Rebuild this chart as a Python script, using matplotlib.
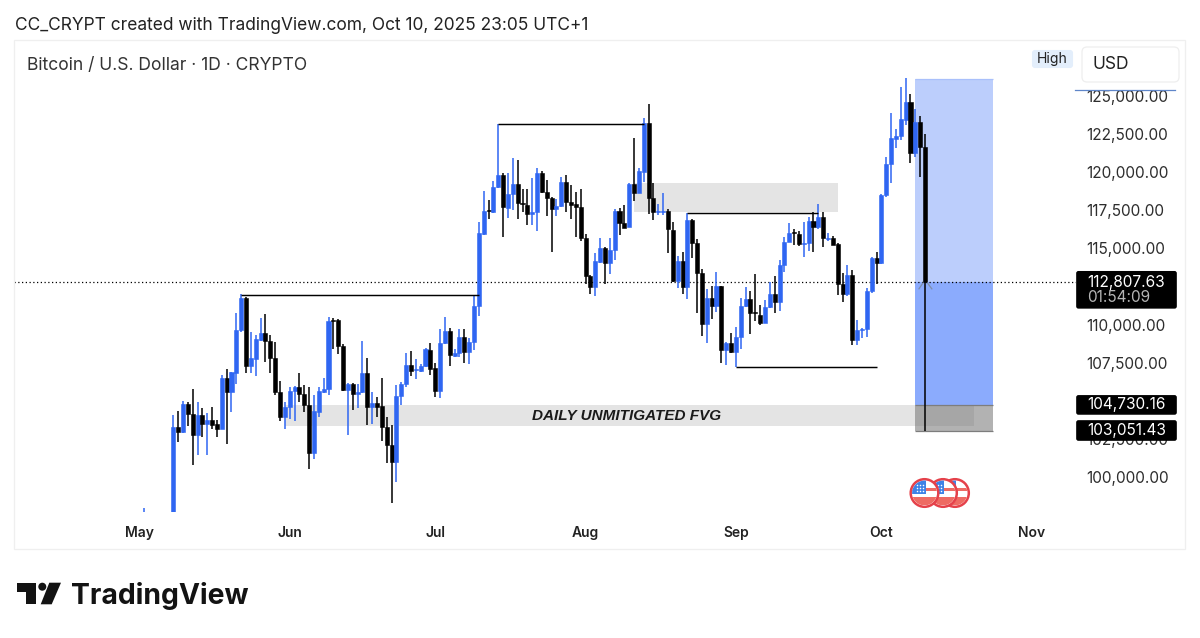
import matplotlib
matplotlib.use("Agg")
import matplotlib.pyplot as plt
from matplotlib.patches import Rectangle, Circle, Polygon, FancyBboxPatch

plt.rcParams['font.family'] = ['Inter', 'DejaVu Sans']

# one candle per day, starting on May 8 (day 0)
opens = [97000, 103285, 102935, 104794, 104116, 102760, 104073, 103482, 103744, 103460,
         103154, 106522, 105603, 106850, 109649, 111727, 107287, 107747, 108993, 109474,
         108950, 107790, 105603, 103963, 104576, 105647, 105910, 105428, 104729, 101557,
         104291, 105560, 105757, 110305, 110305, 108622, 105713, 106106, 105450, 105560,
         106806, 104576, 104882, 104663, 103307, 102082, 100967, 105341, 106106, 107331,
         107047, 106981, 107287, 108337, 107134, 105669, 108775, 109584, 107944, 108162,
         109212, 108184, 108884, 111222, 115946, 117521, 117411, 119008, 119817, 117674,
         118571, 119205, 118002, 117849, 117258, 117368, 119970, 118724, 118330, 117586,
         117805, 119380, 118024, 117915, 117740, 115662, 113191, 112447, 114131, 115006,
         114022, 114896, 117433, 116646, 116384, 119227, 118658, 120036, 123207, 118286,
         117411, 117412, 117478, 116209, 112863, 114197, 112491, 116865, 115335, 113366,
         110042, 111748, 111223, 112535, 108336, 108774, 108227, 109211, 111223, 111660,
         110808, 110633, 110130, 111136, 112010, 111507, 113913, 115444, 116078, 115947,
         115291, 115335, 116822, 116384, 117040, 115597, 115663, 115269, 112645, 112010,
         113257, 108992, 109648, 109692, 112185, 114350, 114022, 118504, 120516, 122178,
         122375, 123425, 124628, 121282, 123316, 121632]
highs = [104073, 104335, 105013, 104947, 105757, 104947, 104510, 104182, 104576, 103744,
         106697, 107091, 106916, 110743, 112011, 111793, 109496, 109321, 110415, 110699,
         109321, 108884, 106303, 104947, 105888, 105975, 106806, 106041, 105931, 105385,
         105931, 106478, 110480, 110415, 110349, 108731, 106194, 106194, 106106, 108928,
         107790, 105603, 105232, 106522, 103963, 103416, 106041, 106260, 108162, 108293,
         107725, 107419, 108490, 108775, 107462, 109693, 110480, 109759, 108381, 109693,
         109693, 109146, 111946, 116755, 118767, 118177, 119445, 123141, 119927, 119970,
         120911, 120801, 118877, 118877, 119598, 120255, 120080, 119489, 118396, 118243,
         119708, 119817, 119161, 118680, 118877, 115924, 113256, 114678, 115662, 115071,
         115662, 117565, 117630, 117849, 119270, 122267, 120298, 123535, 124454, 119270,
         117893, 118615, 117565, 116712, 114504, 114788, 117347, 116909, 115597, 113629,
         112317, 112557, 113432, 112557, 108883, 109430, 109867, 111770, 112491, 112229,
         113323, 111289, 111617, 112820, 113213, 114241, 115772, 116647, 116253, 116166,
         116756, 117084, 117412, 117915, 117412, 115991, 115816, 115335, 113366, 113913,
         113585, 110304, 109758, 112382, 114416, 114788, 118600, 121019, 123906, 122813,
         125612, 126159, 125109, 124125, 123710, 122485]
lows = [96900, 102323, 102870, 103373, 100792, 101448, 102607, 101448, 103132, 102651,
        103132, 102148, 104248, 106106, 109540, 106850, 106806, 106631, 108950, 107572,
        106850, 105407, 103679, 103132, 103810, 103701, 104947, 104291, 100508, 101164,
        103963, 105494, 105385, 108403, 108075, 105669, 102760, 104401, 104510, 105494,
        103416, 103482, 103963, 102367, 100945, 98277, 99699, 104729, 105888, 106631,
        106413, 106916, 107244, 106697, 105275, 105166, 108731, 107309, 107856, 107856,
        107506, 107419, 108337, 110588, 115881, 116908, 117302, 118942, 115771, 117018,
        117521, 116908, 117368, 116537, 116537, 116165, 118614, 117149, 114743, 117127,
        117740, 117411, 116930, 115771, 115487, 112644, 111988, 111900, 114022, 112644,
        113322, 114240, 115881, 116318, 116384, 118111, 118614, 119336, 117237, 116865,
        117193, 117194, 114722, 112820, 112382, 112010, 111660, 114350, 110786, 109277,
        108774, 110370, 110851, 107505, 107352, 108161, 107243, 108402, 111179, 109386,
        110261, 109976, 110108, 111092, 110786, 110895, 113432, 115400, 115225, 115160,
        114416, 114832, 114744, 116253, 115116, 115488, 115225, 111945, 111507, 111879,
        108664, 108664, 109145, 109211, 112098, 112666, 113957, 118395, 119314, 121566,
        122113, 123097, 120626, 121019, 119707, 103051.43]
closes = [103307, 102935, 104794, 104116, 102760, 104073, 103482, 103744, 103416, 103154,
          106522, 105603, 106872, 109649, 111727, 107287, 107790, 109037, 109474, 108906,
          107790, 105560, 103963, 104619, 105669, 105910, 105428, 104729, 101557, 104335,
          105647, 105757, 110262, 110262, 108622, 105713, 106106, 105450, 105603, 106806,
          104576, 104882, 104619, 103307, 102082, 100967, 105341, 106106, 107331, 106981,
          107091, 107309, 108403, 107112, 105669, 108818, 109584, 108009, 108162, 109212,
          108184, 108884, 111224, 115990, 117455, 117455, 119052, 119817, 117696, 118571,
          119205, 117958, 117936, 117258, 117368, 119970, 118724, 118330, 117586, 117805,
          119380, 118024, 117849, 117740, 115662, 113191, 112447, 114175, 115006, 114022,
          114896, 117433, 116646, 116362, 119227, 118658, 120080, 123207, 118286, 117411,
          117477, 117478, 116253, 112863, 114197, 112448, 116865, 115335, 113366, 110042,
          111770, 111223, 112557, 108336, 108817, 108227, 109211, 111223, 111660, 110742,
          110764, 110130, 111136, 112010, 111507, 113913, 115444, 116034, 116034, 115291,
          115378, 116822, 116384, 117040, 115663, 115663, 115247, 112645, 112010, 113257,
          108992, 109648, 109692, 112185, 114350, 114066, 118528, 120538, 122222, 122397,
          123469, 124628, 121282, 123316, 121632, 112807.63]

# the only candle of early May that reaches into the pane
stub_day = -6
stub_high = 97950
stub_low = 96500

month_days = [-7, 24, 54, 85, 116, 146, 177]
month_names = ['May', 'Jun', 'Jul', 'Aug', 'Sep', 'Oct', 'Nov']
price_ticks = [100000, 102500, 107500, 110000, 115000, 117500, 120000, 122500, 125000]

last_price = 112807.63
target_price = 104730.16
stop_price = 103051.43
box_top = 126115

# (first day, last day, price)
level_lines = [(14, 63, 111946), (67, 97, 123141), (106, 133, 117347), (116, 145, 107243)]
fvg_days = (23, 165)
fvg_prices = (103374, 104730)
supply_days = (95, 137)
supply_prices = (117412, 119271)
box_days = (153, 169)

BLUE = '#2f66f2'

fig = plt.figure(figsize=(12, 6.38), dpi=100, facecolor='white')
ax = fig.add_axes([14 / 1200, 1 - 512 / 638, 1062 / 1200, 472 / 638])
ax.set_xlim((14 - 173.3) / 4.85, (1076 - 173.3) / 4.85)
ax.set_ylim(97710, 128674)
for s in ax.spines.values():
    s.set_visible(False)


def price_px(p):
    # price to pixel row, for the tags in the right gutter
    return 96 + (125000 - p) * 38.1 / 2500


# zones behind the candles
ax.add_patch(Rectangle((fvg_days[0], fvg_prices[0]), fvg_days[1] - fvg_days[0],
                       fvg_prices[1] - fvg_prices[0], color='#e4e4e4', lw=0, zorder=1))
ax.add_patch(Rectangle((supply_days[0], supply_prices[0]), supply_days[1] - supply_days[0],
                       supply_prices[1] - supply_prices[0], color='#e4e4e4', lw=0, zorder=1))

box_w = box_days[1] - box_days[0]
ax.add_patch(Rectangle((box_days[0], last_price), box_w, box_top - last_price,
                       color='#bccefc', lw=0, zorder=1.2))
ax.add_patch(Rectangle((box_days[0], target_price), box_w, last_price - target_price,
                       color='#8babfd', lw=0, zorder=1.2))
ax.add_patch(Rectangle((box_days[0], stop_price), box_w, target_price - stop_price,
                       color='#b2b2b2', lw=0, zorder=1.3))
ax.add_patch(Rectangle((box_days[0], fvg_prices[0]), fvg_days[1] - box_days[0],
                       fvg_prices[1] - fvg_prices[0], color='#a6a6a6', lw=0, zorder=1.4))
ax.hlines([target_price, stop_price], box_days[0], box_days[1], color='#7d7d7d', lw=0.9, zorder=1.5)
ax.hlines(box_top, box_days[0], box_days[1], color='#a9c0fb', lw=0.9, zorder=1.5)

ax.axhline(last_price, color='black', lw=0.9, ls=(0, (1, 2)), zorder=2)

days = list(range(len(opens)))
colors = [BLUE if c >= o else 'black' for o, c in zip(opens, closes)]
ax.vlines(days, lows, highs, colors=colors, lw=1.1, zorder=3)
ax.bar(days, [abs(c - o) for o, c in zip(opens, closes)],
       bottom=[min(o, c) for o, c in zip(opens, closes)], width=0.84,
       color=colors, edgecolor=colors, linewidth=0.4, zorder=3.2)
ax.vlines([stub_day], [stub_low], [stub_high], colors=[BLUE], lw=1.1, zorder=3)

for d0, d1, p in level_lines:
    ax.hlines(p, d0, d1, color='black', lw=1.05, zorder=4)

# entry chevron of the position tool
ax.plot([154.55, 153.75], [112730, 112350], color='#7f8ea8', lw=0.9, zorder=4)
ax.plot([155.5, 156.4], [112730, 112350], color='#7f8ea8', lw=0.9, zorder=4)

ax.text(93.5, 104040, 'DAILY UNMITIGATED FVG', ha='center', va='center', fontsize=11,
        family='Liberation Sans', weight='bold', style='italic', color='#1a1a1a', zorder=5)

ax.yaxis.tick_right()
ax.set_yticks(price_ticks)
ax.set_yticklabels([f'{p:,.2f}' for p in price_ticks])
ax.tick_params(axis='y', length=0, pad=7.5, labelsize=11.1, labelcolor='#2e2e2e')
ax.set_xticks(month_days)
ax.set_xticklabels(month_names)
ax.tick_params(axis='x', length=0, pad=10, labelsize=10, labelcolor='#222222')
for t in ax.get_xticklabels():
    t.set_fontweight('semibold')

# page furniture, drawn in pixel coordinates over the chart
ov = fig.add_axes([0, 0, 1, 1], zorder=10)
ov.set_xlim(0, 1200)
ov.set_ylim(638, 0)
ov.axis('off')
ov.patch.set_visible(False)

ov.add_patch(Rectangle((14, 40), 1171, 509, fill=False, ec='#efefef', lw=0.9))
ov.text(15, 26, 'CC_CRYPT created with TradingView.com, Oct 10, 2025 23:05 UTC+1',
        fontsize=12.5, va='center', color='#222222')
ov.text(27, 65, 'Bitcoin / U.S. Dollar · 1D · CRYPTO', fontsize=12.6, va='center', color='#333333')

ov.add_patch(FancyBboxPatch((1033, 51), 39, 16, boxstyle='round,pad=0,rounding_size=2',
                            fc='#e3eefb', ec='#e3eefb', lw=1.5))
ov.text(1052, 59, 'High', fontsize=10, ha='center', va='center', color='#222222')
ov.add_patch(FancyBboxPatch((1082, 47), 97, 35, boxstyle='round,pad=0,rounding_size=5',
                            fc='white', ec='#eeeeee', lw=0.9))
ov.text(1093, 64.5, 'USD', fontsize=12.5, va='center', color='#222222')
ov.plot([1075, 1175], [89.5, 89.5], color='#5f86c9', lw=0.9)


def price_tag(p, h, text_y, label):
    y = price_px(p)
    ov.add_patch(FancyBboxPatch((1077, y - h[0]), 99, h[0] + h[1],
                                boxstyle='round,pad=0,rounding_size=1.5', fc='black', ec='black', lw=1.2))
    ov.text(1087, y + text_y, label, fontsize=11.1, va='center', color='white')


price_tag(last_price, (10, 26), 0.5, f'{last_price:,.2f}')
ov.text(1087, price_px(last_price) + 16, '01:54:09', fontsize=11.1, va='center', color='#b5b5b5')
price_tag(target_price, (9, 9), 0, f'{target_price:,.2f}')
price_tag(stop_price, (9.5, 9.5), 0, f'{stop_price:,.2f}')


def flag(cx, cy, r, z):
    disc = Circle((cx, cy), r - 1.2, fc='white', ec='#e5414a', lw=1.8, zorder=z)
    ov.add_patch(disc)
    inner = Circle((cx, cy), r - 2.6, transform=ov.transData)
    for top, h in [(-5.5, 3.4), (3.5, 8.5)]:
        st = Rectangle((cx - r, cy + top), 2 * r, h, fc='#ee6b63', lw=0, zorder=z + 0.1)
        ov.add_patch(st)
        st.set_clip_path(inner)
    canton = Rectangle((cx - r, cy - r), r + 1, r + 1, fc='#3f83e6', lw=0, zorder=z + 0.2)
    ov.add_patch(canton)
    canton.set_clip_path(inner)
    for dy in (-8, -5, -2):
        ov.plot([cx - 8, cx - 5, cx - 2], [cy + dy] * 3, ls='none', marker='o', ms=1.1,
                mew=0, color='white', zorder=z + 0.3)


flag(955, 493, 15, 20)
flag(943, 493, 15, 21)
flag(924.5, 493, 15, 22)

# TradingView logo
ov.add_patch(Polygon([(17.3, 582.7), (36, 582.7), (36, 604.3), (26, 604.3), (26, 591.7), (17.3, 591.7)],
                     fc='#131313', lw=0))
ov.add_patch(Circle((42.3, 586.7), 4, fc='#131313', lw=0))
ov.add_patch(Polygon([(49.3, 582.7), (61, 582.7), (51.7, 604.3), (40.7, 604.3)], fc='#131313', lw=0))
ov.text(71.5, 604, 'TradingView', fontsize=20.4, weight='bold', va='baseline', color='#131313')

fig.savefig('out.png', dpi=100)
